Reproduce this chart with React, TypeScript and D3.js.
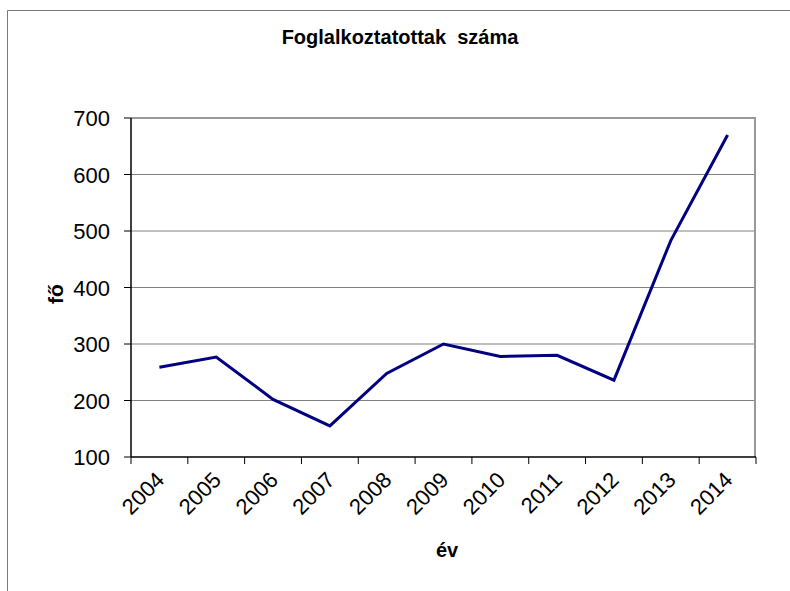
import React from "react";
import * as d3 from "d3";

const years = ["2004", "2005", "2006", "2007", "2008", "2009", "2010", "2011", "2012", "2013", "2014"];
const employed = [259, 277, 202, 155, 248, 300, 278, 280, 236, 483, 670];
const yTicks = [100, 200, 300, 400, 500, 600, 700];

const W = 790;
const H = 591;
const left = 131;
const right = 756;
const top = 118;
const bottom = 457;

export default function App() {
  const x = d3.scaleBand<string>().domain(years).range([left, right]).padding(0);
  const y = d3.scaleLinear().domain([100, 700]).range([bottom, top]);
  const cx = (d: string) => (x(d) as number) + x.bandwidth() / 2;
  const line = d3
    .line<number>()
    .x((_, i) => cx(years[i]))
    .y((v) => y(v));
  const boundaries = years.map((d) => x(d) as number).concat([right]);
  const font = "Liberation Sans, Arial, sans-serif";

  return (
    <svg
      width={W}
      height={H}
      style={{ position: "absolute", left: 0, top: 0, background: "#fff" }}
      fontFamily={font}
    >
      {/* outer chart border */}
      <path d={`M7.5,${H} V10.5 H${W}`} fill="none" stroke="#7a7a7a" strokeWidth={1} />

      {/* title */}
      <text
        x={400}
        y={44}
        textAnchor="middle"
        fontWeight="bold"
        fontSize={20}
        style={{ whiteSpace: "pre" }}
      >
        {"Foglalkoztatottak  száma"}
      </text>

      {/* gridlines */}
      {yTicks.slice(1).map((t) => (
        <line key={t} x1={left} x2={right} y1={y(t)} y2={y(t)} stroke="#808080" strokeWidth={1} />
      ))}

      {/* plot frame top/right */}
      <path d={`M${left},${top} H${right - 1} V${bottom}`} fill="none" stroke="#999" strokeWidth={2} />

      {/* axes */}
      <line x1={left} x2={left} y1={top} y2={bottom} stroke="#000" strokeWidth={1.5} />
      <line x1={left} x2={right} y1={bottom} y2={bottom} stroke="#000" strokeWidth={1.5} />

      {/* y ticks */}
      {yTicks.map((t) => (
        <g key={t}>
          <line x1={left - 7} x2={left} y1={y(t)} y2={y(t)} stroke="#000" strokeWidth={1} />
          <text x={110} y={y(t) + 8} textAnchor="end" fontSize={22}>
            {t}
          </text>
        </g>
      ))}

      {/* x ticks */}
      {boundaries.map((b, i) => (
        <line key={i} x1={b} x2={b} y1={bottom} y2={bottom + 7} stroke="#000" strokeWidth={1} />
      ))}
      {years.map((d) => (
        <text
          key={d}
          transform={`translate(${cx(d) + 1},${bottom + 19}) rotate(-45)`}
          textAnchor="end"
          dominantBaseline="central"
          fontSize={22}
        >
          {d}
        </text>
      ))}

      {/* data line */}
      <path d={line(employed) as string} fill="none" stroke="#000080" strokeWidth={3} strokeLinejoin="miter" />

      {/* axis titles */}
      <text x={447} y={557} textAnchor="middle" fontWeight="bold" fontSize={20}>
        év
      </text>
      <text
        transform={`translate(63,294) rotate(-90)`}
        textAnchor="middle"
        fontWeight="bold"
        fontSize={21}
      >
        fő
      </text>
    </svg>
  );
}
